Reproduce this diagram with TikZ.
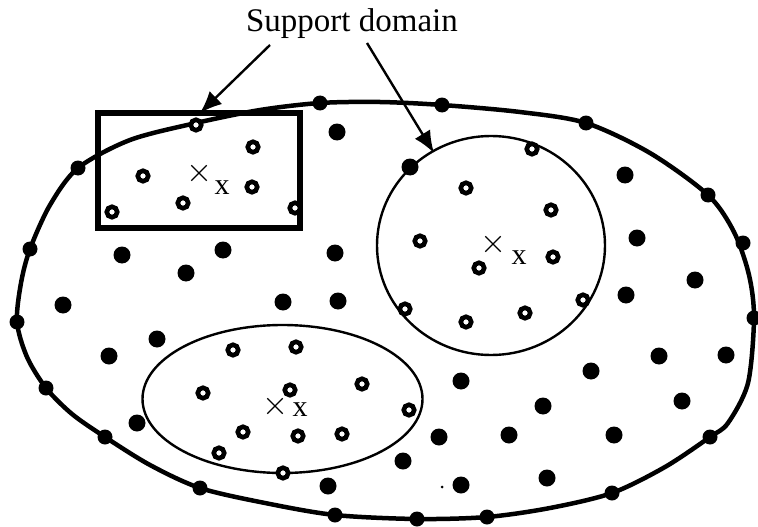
\documentclass[tikz,border=0pt]{standalone}
\usepackage{fontspec}
\setmainfont{Liberation Serif}
\usetikzlibrary{arrows.meta,shapes.misc}
\tikzset{
  fdot/.style={circle,fill=black,inner sep=0pt,minimum size=17pt},
  bdot/.style={circle,fill=black,inner sep=0pt,minimum size=15pt},
  hdot/.style={circle,draw=black,fill=white,line width=4.6pt,inner sep=0pt,minimum size=10.5pt},
  xmark/.style={cross out,draw=black,line width=1.4pt,inner sep=0pt,minimum size=14pt},
  xlab/.style={font=\fontsize{30}{32}\selectfont,inner sep=0pt},
  arr/.style={line width=2.4pt,-{Latex[length=22pt,width=18pt]}},
  thin domain/.style={line width=2.4pt},
}
\begin{document}
\begin{tikzpicture}[x=1pt,y=-1pt]
\useasboundingbox (0,0) rectangle (758,527);
% problem domain boundary
\draw[line width=4.5pt] plot[smooth cycle,tension=0.5] coordinates {
 (17,322) (21,283) (30,249) (50,205) (78,168) (130,140) (196,123) (260,110)
 (320,103) (380,102) (442,105) (520,112) (586,123) (650,153) (708,195)
 (734,232) (749,275) (754,318) (748,383) (728,423) (710,437) (665,467)
 (612,493) (550,508) (487,517) (417,519) (335,515) (265,503) (200,488)
 (150,465) (105,437) (72,414) (46,388) (27,357)};
% support domains
\draw[thin domain] (491,245.5) ellipse [x radius=114, y radius=109.5];
\draw[thin domain] (282.5,399) ellipse [x radius=140, y radius=74];
\draw[line width=6.5pt] (98,113) rectangle (300,228);
% boundary nodes
\foreach \p [count=\i] in {(78,168),(30,249),(17,322),(46,388),(105,437),(200,488),(335,515),(417,519),(487,517),(612,493),(710,437),(754,318),(743,243),(708,195),(586,123),(442,105),(320,103)}
  \node[bdot] (b\i) at \p {};
% interior field nodes
\foreach \p [count=\i] in {(337,132),(122,255),(223,250),(335,253),(186,273),(63,305),(283,302),(338,301),(157,339),(109,356),(137,423),(328,486),(625,175),(637,238),(410,167),(626,295),(695,280),(659,356),(726,355),(591,371),(461,381),(682,401),(543,406),(439,437),(509,435),(614,435),(403,461),(461,485),(547,478)}
  \node[fdot] (f\i) at \p {};
\node[circle,fill=black,inner sep=0pt,minimum size=3pt] (speck) at (442,487) {};
% nodes in support domains
\foreach \p [count=\i] in {(196,125),(143,176),(183,203),(253,147),(252,187),(112,212),(295,208),
  (532,149),(466,188),(551,210),(420,241),(479,268),(553,257),(405,309),(466,322),(525,313),(583,300),
  (233,350),(296,347),(203,393),(290,390),(362,384),(243,432),(298,436),(342,434),(219,453),(283,473),(409,410)}
  \node[hdot] (h\i) at \p {};
% points of interest
\node[xmark] (x1) at (199,173) {};
\node[xlab] (l1) at (222,188) {x};
\node[xmark] (x2) at (493,244) {};
\node[xlab] (l2) at (519,258) {x};
\node[xmark] (x3) at (275,406) {};
\node[xlab] (l3) at (300,410) {x};
% label and arrows
\node[font=\fontsize{33}{36}\selectfont,inner sep=0pt] (lab) at (352,24) {Support domain};
\coordinate (s1) at (270,45);
\coordinate (t1) at (200,113);
\coordinate (s2) at (367,43);
\coordinate (t2) at (434,153);
\draw[arr] (s1) -- (t1);
\draw[arr] (s2) -- (t2);
\end{tikzpicture}
\end{document}
